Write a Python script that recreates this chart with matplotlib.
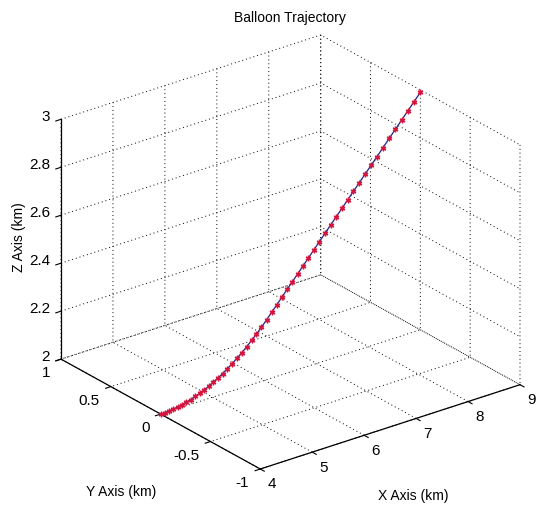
import numpy as np
import matplotlib
matplotlib.use('Agg')
import matplotlib.pyplot as plt
from mpl_toolkits.mplot3d import proj3d

# ---- data ----
x_km = [4.000, 4.081, 4.162, 4.244, 4.327, 4.410, 4.494, 4.579, 4.665, 4.751,
        4.838, 4.925, 5.014, 5.103, 5.193, 5.284, 5.375, 5.468, 5.561, 5.655,
        5.750, 5.845, 5.941, 6.038, 6.136, 6.235, 6.334, 6.436, 6.537, 6.639,
        6.742, 6.846, 6.952, 7.057, 7.164, 7.272, 7.380, 7.490, 7.600, 7.712,
        7.823, 7.936, 8.051, 8.166, 8.282, 8.400, 8.517, 8.637, 8.757, 8.877,
        9.000]
y_km = [0.0, 0.0, 0.0, 0.0, 0.0, 0.0, 0.0, 0.0, 0.0, 0.0,
        0.0, 0.0, 0.0, 0.0, 0.0, 0.0, 0.0, 0.0, 0.0, 0.0,
        0.0, 0.0, 0.0, 0.0, 0.0, 0.0, 0.0, 0.0, 0.0, 0.0,
        0.0, 0.0, 0.0, 0.0, 0.0, 0.0, 0.0, 0.0, 0.0, 0.0,
        0.0, 0.0, 0.0, 0.0, 0.0, 0.0, 0.0, 0.0, 0.0, 0.0,
        0.0]
z_km = [2.000, 2.000, 2.002, 2.004, 2.006, 2.010, 2.015, 2.020, 2.027, 2.034,
        2.042, 2.051, 2.062, 2.073, 2.085, 2.099, 2.113, 2.129, 2.146, 2.164,
        2.184, 2.204, 2.226, 2.249, 2.274, 2.298, 2.323, 2.349, 2.374, 2.399,
        2.425, 2.451, 2.478, 2.504, 2.531, 2.558, 2.585, 2.612, 2.640, 2.668,
        2.695, 2.724, 2.752, 2.781, 2.810, 2.840, 2.869, 2.899, 2.929, 2.959,
        2.990]

x_ticks = [4, 5, 6, 7, 8, 9]
y_ticks = [-1, -0.5, 0, 0.5, 1]
z_ticks = [2, 2.2, 2.4, 2.6, 2.8, 3]
x_ticklabels = ['4', '5', '6', '7', '8', '9']
y_ticklabels = ['-1', '-0.5', '0', '0.5', '1']
z_ticklabels = ['2', '2.2', '2.4', '2.6', '2.8', '3']

title_text = 'Balloon Trajectory'
x_label = 'X Axis (km)'
y_label = 'Y Axis (km)'
z_label = 'Z Axis (km)'

# ---- style ----
plt.rcParams['font.family'] = ['Liberation Sans', 'DejaVu Sans']
plt.rcParams['axes.unicode_minus'] = False
FS_TICK = 11
FS_LABEL = 10
FS_TITLE = 10

W, H = 536, 508
fig = plt.figure(figsize=(W / 100, H / 100), dpi=100, facecolor='white')
ax = fig.add_axes([0, 0, 1, 1], projection='3d', proj_type='ortho')
# MATLAB stretches the box to fill the axes; allow non-square 2D box
ax.apply_aspect = lambda position=None: None
ax.view_init(elev=30, azim=-127.5)
ax.set_box_aspect((1, 1, 1))
ax.set_xlim(4, 9, view_margin=0)
ax.set_ylim(-1, 1, view_margin=0)
ax.set_zlim(2, 3, view_margin=0)

ax.plot(x_km, y_km, z_km, color='#22228c', lw=0.9,
        marker=(6, 2, 0), markersize=4, markeredgecolor='#d4143c',
        markerfacecolor='#d4143c', markeredgewidth=1.0)

ax.set_xticks(x_ticks)
ax.set_yticks(y_ticks)
ax.set_zticks(z_ticks)
# tick labels are drawn below as texts placed like MATLAB's
ax.set_xticklabels([])
ax.set_yticklabels([])
ax.set_zticklabels([])

for axis in (ax.xaxis, ax.yaxis, ax.zaxis):
    axis.set_pane_color((1, 1, 1, 0))
    axis.line.set_color('black')
    axis.line.set_linewidth(0.9)
    axis._axinfo['grid']['color'] = 'black'
    axis._axinfo['grid']['linewidth'] = 0.7
    axis._axinfo['grid']['linestyle'] = (0, (1, 3))
    axis._axinfo['tick']['inward_factor'] = 0.25
    axis._axinfo['tick']['outward_factor'] = 0.0
    axis._axinfo['tick']['linewidth'] = {True: 0.8, False: 0.5}
    axis._axinfo['tick']['color'] = 'black'
ax.tick_params(colors='black')

# ---- fit the projected box to the reference pixel layout ----
fig.canvas.draw()


def to_disp(p):
    xs, ys, _ = proj3d.proj_transform(p[0], p[1], p[2], ax.get_proj())
    return ax.transData.transform((float(xs), float(ys)))


L = to_disp((4, 1, 2))
R = to_disp((9, -1, 2))
F = to_disp((4, -1, 2))
TB = to_disp((9, 1, 3))
uL, uR = L[0] / W, R[0] / W
vF, vT = F[1] / H, TB[1] / H
tL, tR, tF, tT = 61, 520, H - 469, H - 35
w_new = (tR - tL) / (uR - uL)
left_new = tL - uL * w_new
h_new = (tT - tF) / (vT - vF)
bot_new = tF - vF * h_new
ax.set_position([left_new / W, bot_new / H, w_new / W, h_new / H])
fig.canvas.draw()


def tick_text(p, dx, dy, s, ha):
    d = to_disp(p)
    fig.text((d[0] + dx) / W, (d[1] - dy) / H, s, ha=ha, va='center',
             fontsize=FS_TICK)


for v, s in zip(x_ticks, x_ticklabels):
    tick_text((v, -1, 2), 7.5, 15.5, s, 'left')
for v, s in zip(y_ticks, y_ticklabels):
    tick_text((4, v, 2), -11, 14, s, 'right')
for v, s in zip(z_ticks, z_ticklabels):
    tick_text((4, 1, v), -11, -2, s, 'right')

# ---- titles / axis labels placed as in the reference ----
fig.text(290 / W, 1 - 18 / H, title_text, ha='center', va='center', fontsize=FS_TITLE)
fig.text(413 / W, 1 - 496 / H, x_label, ha='center', va='center', fontsize=FS_LABEL)
fig.text(121 / W, 1 - 492 / H, y_label, ha='center', va='center', fontsize=FS_LABEL)
fig.text(19 / W, 1 - 237 / H, z_label, ha='center', va='center', fontsize=FS_LABEL, rotation=90)

fig.savefig('out.png', dpi=100, facecolor='white')
